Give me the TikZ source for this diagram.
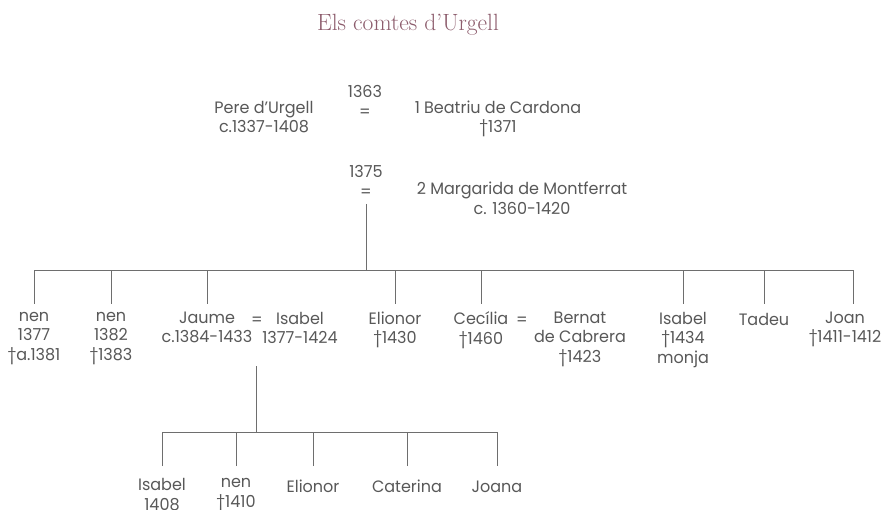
\documentclass[tikz,border=0pt]{standalone}
\usepackage{fontspec}
\newfontfamily\labelfont{Poppins}[Numbers=Proportional, FakeStretch=0.97]
\usetikzlibrary{positioning,calc}
\definecolor{textgray}{RGB}{88,88,88}
\definecolor{linegray}{RGB}{110,110,110}
\definecolor{titlemauve}{RGB}{140,92,108}
\tikzset{
  person/.style={font=\labelfont\fontsize{16.5}{19.5}\selectfont, text=textgray, align=center,
    inner xsep=1pt, inner ysep=7.7pt, anchor=north,
    execute at begin node=\strut, execute at end node=\strut},
  wedding/.style={person, inner ysep=0.5pt},
  grandkid/.style={person, inner ysep=12.5pt},
  branch/.style={draw=linegray, line width=0.9pt},
}

\begin{document}
\begin{tikzpicture}[x=1pt, y=-1pt]
    \useasboundingbox (0,0) rectangle (883,510);
    \node[anchor=base, font=\fontsize{23.5}{26}\selectfont, text=titlemauve] (title) at (408,30.5) {Els comtes d’Urgell};

    % Pere and his two wives
    \node[person] (pere) at (264,93) {Pere d’Urgell\\c.1337-1408};
    \node[wedding] (wed1) at (365,85) {1363\\=};
    \node[person] (beatriu) at (498,93) {1 Beatriu de Cardona\\†1371};
    \node[wedding] (wed2) at (366,165) {1375\\=};
    \node[person] (margarida) at (522,174) {2 Margarida de Montferrat\\c. 1360-1420};

    % children
    \node[person] (nen1) at (34,304) {nen\\1377\\†a.1381};
    \node[person] (nen2) at (111,304) {nen\\1382\\†1383};
    \node[person] (jaume) at (207,304) {Jaume\\c.1384-1433};
    \node[person] (jeq) at (257,304) {=};
    \node[person] (isabelj) at (300,304) {Isabel\\1377-1424};
    \node[person] (elionor) at (395,304) {Elionor\\†1430};
    \node[person] (cecilia) at (481,304) {Cecília\\†1460};
    \node[person] (ceq) at (522,304) {=};
    \node[person] (bernat) at (580,304) {Bernat\\de Cabrera\\†1423};
    \node[person] (isabelm) at (683,304) {Isabel\\†1434\\monja};
    \node[person] (tadeu) at (764,304) {Tadeu};
    \node[person] (joan) at (845,304) {Joan\\†1411-1412};

    % grandchildren
    \node[grandkid] (gisabel) at (162,466) {Isabel\\1408};
    \node[grandkid] (gnen) at (236,466) {nen\\†1410};
    \node[grandkid] (gelionor) at (313,466) {Elionor};
    \node[grandkid] (caterina) at (407,466) {Caterina};
    \node[grandkid] (joana) at (497,466) {Joana};

    \coordinate (kidbar) at (366,270);
    \coordinate (kidend) at (853,270);
    \coordinate (jdesc) at (256,366);
    \coordinate (gkbar) at (256,432);

    \draw[branch] (wed2.south) -- (kidbar);
    \draw[branch] (nen1.north) -- (nen1 |- kidbar) -- (kidend) -- (joan.north -| kidend);
    \foreach \k in {nen2,jaume,elionor,cecilia,isabelm,tadeu}
        \draw[branch] (\k.north) -- (\k |- kidbar);
    \draw[branch] (jdesc) -- (gkbar);
    \draw[branch] (gisabel.north) -- (gisabel |- gkbar) -- (joana |- gkbar) -- (joana.north);
    \foreach \k in {gnen,gelionor,caterina}
        \draw[branch] (\k.north) -- (\k |- gkbar);
\end{tikzpicture}
\end{document}
